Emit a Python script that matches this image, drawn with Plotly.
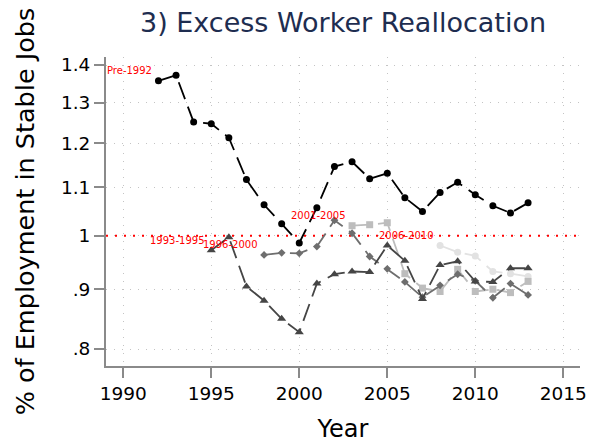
import math
import plotly.graph_objects as go

# Cohort series: employment in stable jobs (relative), by year
years_pre1992 = list(range(1992, 2014))
pre1992 = [1.357, 1.372, 1.251, 1.247, 1.213, 1.117, 1.063, 1.024, 0.986, 1.057, 1.146,
           1.157, 1.119, 1.131, 1.078, 1.049, 1.089, 1.111, 1.084, 1.061, 1.046, 1.067]

years_9395 = list(range(1995, 2014))
c1993_1995 = [0.972, 0.997, 0.905, 0.880, 0.849, 0.827, 0.910, 0.927, 0.932, 0.931,
              0.981, 0.952, 0.883, 0.944, 0.951, 0.914, 0.913, 0.938, 0.938]

years_9600 = list(range(1998, 2014))
c1996_2000 = [0.963, 0.967, 0.966, 0.979, 1.031, 1.005, 0.960, 0.937, 0.913, 0.886,
              0.907, 0.927, 0.915, 0.885, 0.910, 0.890]

years_0105 = list(range(2003, 2014))
c2001_2005 = [1.020, 1.022, 1.026, 0.928, 0.902, 0.896, 0.936, 0.896, 0.900, 0.894, 0.914]

years_0610 = list(range(2008, 2014))
c2006_2010 = [0.981, 0.968, 0.961, 0.932, 0.928, 0.923]

cohort_labels = ["Pre-1992", "1993-1995", "1996-2000", "2001-2005", "2006-2010"]
x_ticks = [1990, 1995, 2000, 2005, 2010, 2015]
y_ticks = [0.8, 0.9, 1.0, 1.1, 1.2, 1.3, 1.4]
y_ticktext = [".8", ".9", "1", "1.1", "1.2", "1.3", "1.4"]
reference_level = 1.0

X_RANGE = [1989.02, 2015.95]
FONT = "DejaVu Sans"

series = [
    # (years, values, label, colour, marker symbol, marker size)
    (years_0610, c2006_2010, cohort_labels[4], "#e2e2e2", "circle", 7),
    (years_0105, c2001_2005, cohort_labels[3], "#bdbdbd", "square", 7),
    (years_9600, c1996_2000, cohort_labels[2], "#6e6e6e", "diamond", 6),
    (years_9395, c1993_1995, cohort_labels[1], "#454545", "triangle-up", 8),
    (years_pre1992, pre1992, cohort_labels[0], "#000000", "circle", 7),
]

fig = go.Figure()

# Red dotted reference line at 1, spanning the whole plot width
fig.add_trace(go.Scatter(
    x=X_RANGE, y=[reference_level, reference_level], mode="lines",
    line=dict(color="#ff0000", width=2, dash="2px,7px"),
    hoverinfo="skip", cliponaxis=False,
))

for yrs, vals, name, color, symbol, size in series:
    fig.add_trace(go.Scatter(
        x=yrs, y=vals, name=name, mode="lines+markers",
        line=dict(color=color, width=1.8, dash="18px,8px"),
        marker=dict(color=color, symbol=symbol, size=size, line=dict(width=0)),
    ))

# Cohort labels placed just up-left of each series' first point
annotations = []
for yrs, vals, name, color, symbol, size in series:
    annotations.append(dict(
        x=yrs[0], y=math.log10(vals[0]), xref="x", yref="y",
        text=name, showarrow=False, xanchor="right", yanchor="middle",
        xshift=-4, yshift=10,
        font=dict(family=FONT, size=10, color="#ff0000"),
    ))

axis_common = dict(
    showline=True, linecolor="#8a8a8a", linewidth=2,
    ticks="outside", ticklen=10, tickwidth=1.5, tickcolor="#8a8a8a",
    showgrid=True, gridcolor="#c4c4c4", gridwidth=1, griddash="1px,7px",
    zeroline=False, mirror=False, automargin=False,
    tickfont=dict(family=FONT, size=18.5, color="#000000"),
)

fig.update_layout(
    width=589, height=443,
    margin=dict(l=106, r=9, t=57, b=77),
    paper_bgcolor="white", plot_bgcolor="white",
    showlegend=False,
    title=dict(
        text="3) Excess Worker Reallocation",
        x=0.5, xref="paper", xanchor="center",
        y=1 - 23 / 443, yref="container", yanchor="middle",
        font=dict(family=FONT, size=27, color="#1e2d50"),
    ),
    xaxis=dict(
        range=X_RANGE, tickvals=x_ticks,
        title=dict(text="Year", standoff=21,
                   font=dict(family=FONT, size=24, color="#000000")),
        **axis_common,
    ),
    yaxis=dict(
        type="log", range=[-0.11145, 0.15297],
        tickvals=y_ticks, ticktext=y_ticktext,
        title=dict(text="% of Employment in Stable Jobs", standoff=19,
                   font=dict(family=FONT, size=25.5, color="#000000")),
        **axis_common,
    ),
    annotations=annotations,
)

fig.write_html("out.html")
